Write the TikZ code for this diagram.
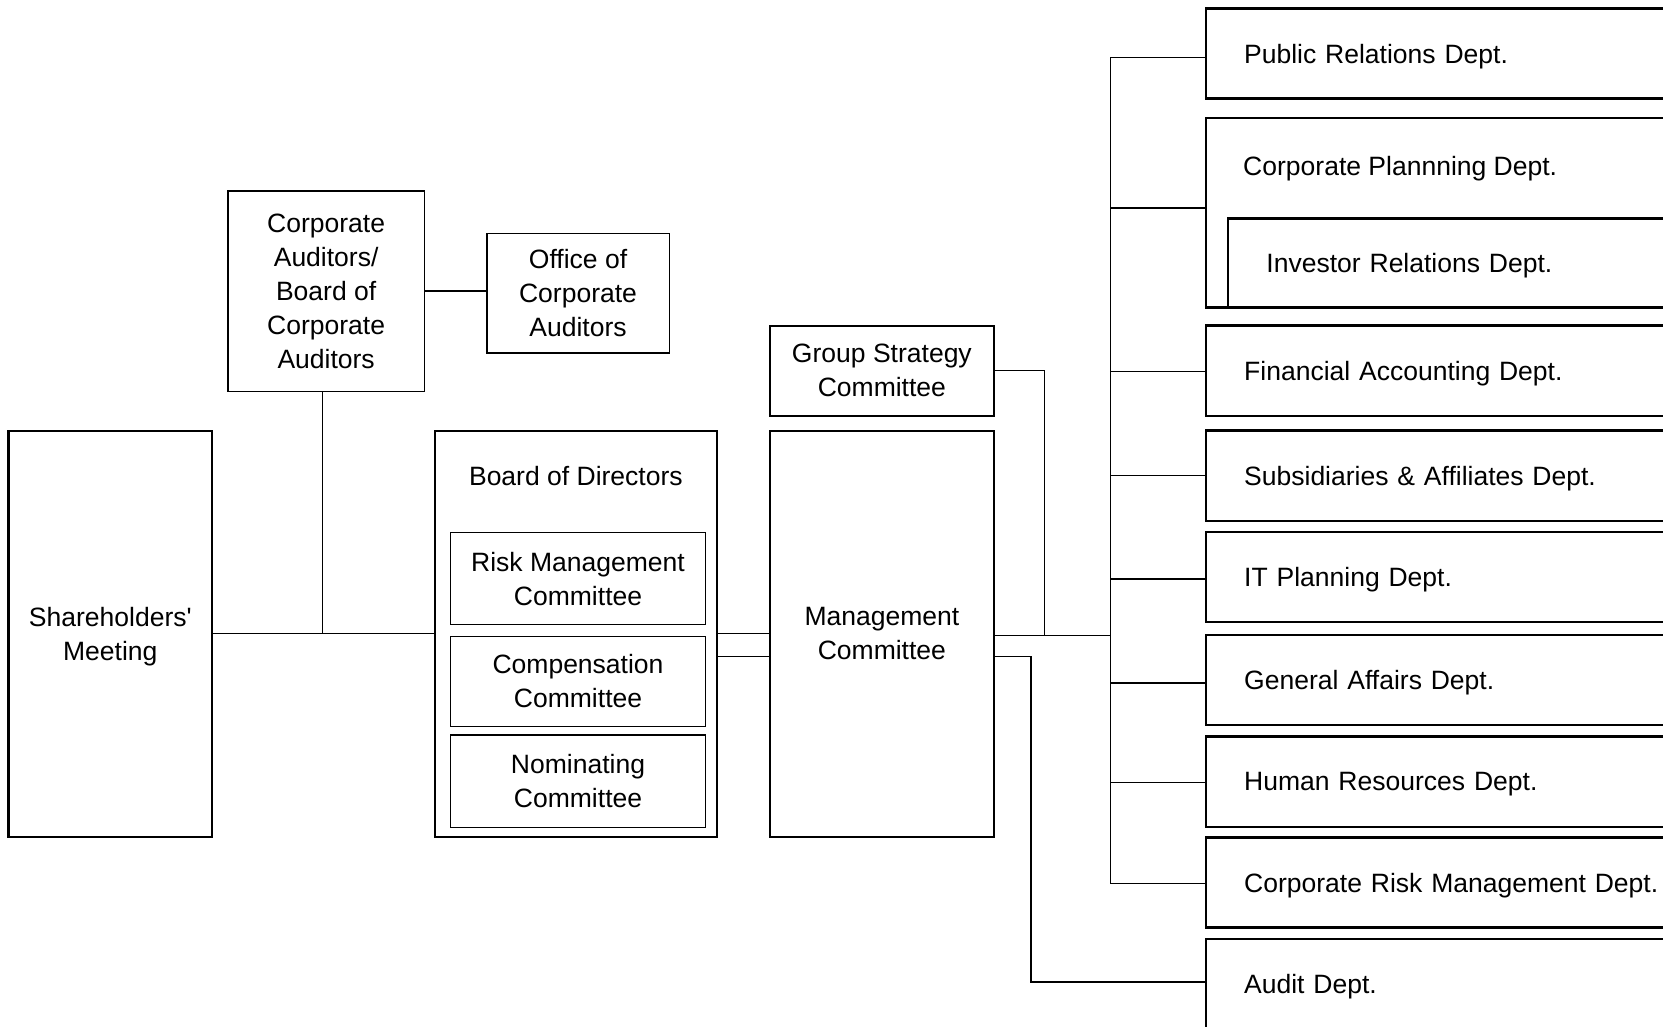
\documentclass[tikz,border=0pt]{standalone}
\usepackage{fontspec}
\setmainfont{Liberation Sans}
\begin{document}
\begin{tikzpicture}[x=1pt,y=-1pt,
  every node/.style={font=\fontsize{25}{32}\selectfont},
  bigbox/.style={draw, line width=2pt, align=center, inner sep=0pt},
  smallbox/.style={draw, line width=1.3pt, align=center, inner sep=0pt},
  dept/.style={draw, line width=2.2pt, anchor=west, minimum height=85pt, text width=430pt, align=left, inner xsep=36pt, inner ysep=0pt, text depth=0pt},
  conn/.style={line width=1.2pt}]
\useasboundingbox (0,0) rectangle (1568,968);
\fill[white] (0,0) rectangle (1568,968);
\clip (0,0) rectangle (1568,968);

% left part
\node[bigbox, minimum width=192pt, minimum height=383pt, text depth=0pt] (sh) at (104,597.5) {Shareholders\textquotesingle\\Meeting};
\node[smallbox, minimum width=185pt, minimum height=189pt] (ca) at (307.5,274.5) {Corporate\\Auditors/\\Board of\\Corporate\\Auditors};
\node[smallbox, minimum width=172pt, minimum height=113pt] (oca) at (545,276.5) {Office of\\Corporate\\Auditors};
\node[bigbox, minimum width=266pt, minimum height=383pt] (bod) at (543,597.5) {};
\node (bodt) at (543,449) {Board of Directors};
\node[smallbox, minimum width=240pt, minimum height=87pt] (rmc) at (545,545.5) {Risk Management\\Committee};
\node[smallbox, minimum width=240pt, minimum height=85pt] (cc) at (545,642.5) {Compensation\\Committee};
\node[smallbox, minimum width=240pt, minimum height=87pt] (nc) at (545,736.5) {Nominating\\Committee};
\node[bigbox, minimum width=211pt, minimum height=85pt, text depth=0pt] (gsc) at (831.5,349.5) {Group Strategy\\Committee};
\node[bigbox, minimum width=211pt, minimum height=383pt, text depth=0pt] (mc) at (831.5,597.5) {Management\\Committee};

% departments
\node[dept] (pr) at (1136,50.5) {Public Relations Dept.};
\node[dept, minimum height=179pt] (cpd) at (1136,200.5) {};
\node[anchor=west, inner sep=0pt, text depth=0pt] (cpdt) at (1172,156) {Corporate Plannning Dept.};
\node[dept, minimum height=84pt] (ird) at (1157,248) {Investor Relations Dept.};
\node[dept] (fad) at (1136,349.5) {Financial Accounting Dept.};
\node[dept] (sad) at (1136,448.5) {Subsidiaries \& Affiliates Dept.};
\node[dept] (itd) at (1136,544) {IT Planning Dept.};
\node[dept] (gad) at (1136,641) {General Affairs Dept.};
\node[dept] (hrd) at (1136,737) {Human Resources Dept.};
\node[dept] (crm) at (1136,832) {Corporate Risk Management Dept.};
\node[dept] (aud) at (1136,928) {Audit Dept.};

% connectors left
\draw[conn] (sh.east) -- (bod.west);
\draw[conn] (ca.south -| 304,0) -- (304,597.5);
\draw[conn] (ca.east) -- (ca.east -| oca.west);
\draw[conn] (bod.east |- 0,597) -- (mc.west |- 0,597);
\draw[conn] (bod.east |- 0,619) -- (mc.west |- 0,619);

% management to departments
\coordinate (bt) at (1047,54);
\coordinate (bb) at (1047,833);
\coordinate (c1) at (1047,196);
\draw[conn] (bt) -- (bb);
\draw[conn] (mc.east |- 0,599) -- (bt |- 0,599);
\draw[conn] (gsc.east) -- (985,349.5) -- (985,599);
\draw[conn] (mc.east |- 0,619) -- (972,619) -- (972,926) -- (aud.west |- 0,926);
\draw[conn] (bt) -- (bt -| pr.west);
\draw[conn] (c1) -- (c1 -| cpd.west);
\draw[conn] (bt |- 0,350) -- (fad.west |- 0,350);
\draw[conn] (bt |- 0,448) -- (sad.west |- 0,448);
\draw[conn] (bt |- 0,546) -- (itd.west |- 0,546);
\draw[conn] (bt |- 0,644) -- (gad.west |- 0,644);
\draw[conn] (bt |- 0,738) -- (hrd.west |- 0,738);
\draw[conn] (bb) -- (crm.west |- bb);
\end{tikzpicture}
\end{document}
